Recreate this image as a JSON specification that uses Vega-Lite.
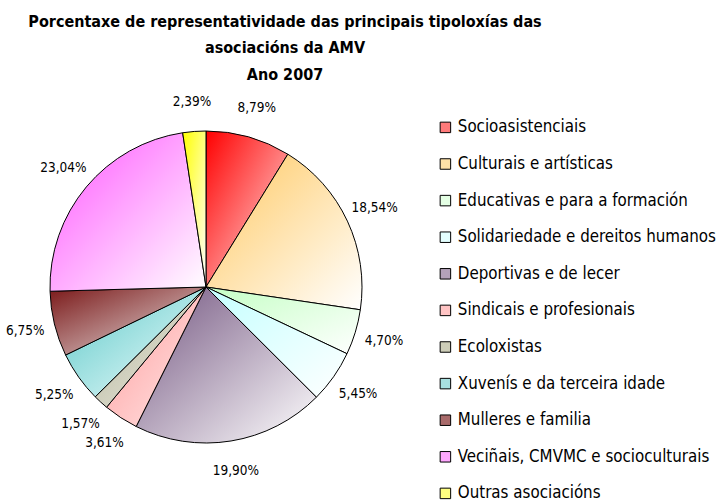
{
  "$schema": "https://vega.github.io/schema/vega-lite/v6.json",
  "autosize": {"type": "none"},
  "width": 412,
  "height": 374,
  "padding": {"left": 0, "top": 100, "right": 309, "bottom": 30},
  "background": "white",
  "title": {
    "text": ["Porcentaxe de representatividade das principais tipoloxías das", "asociacións da AMV", "Ano 2007"],
    "anchor": "middle",
    "dx": 79,
    "offset": 12,
    "font": "DejaVu Sans Condensed",
    "fontSize": 16,
    "fontWeight": "bold",
    "lineHeight": 26.5,
    "color": "#000000"
  },
  "data": {
    "values": [
      {"ordem": 1, "tipo": "Socioasistenciais", "pct": 8.79, "rotulo": "8,79%"},
      {"ordem": 2, "tipo": "Culturais e artísticas", "pct": 18.54, "rotulo": "18,54%"},
      {"ordem": 3, "tipo": "Educativas e para a formación", "pct": 4.70, "rotulo": "4,70%"},
      {"ordem": 4, "tipo": "Solidariedade e dereitos humanos", "pct": 5.45, "rotulo": "5,45%"},
      {"ordem": 5, "tipo": "Deportivas e de lecer", "pct": 19.90, "rotulo": "19,90%"},
      {"ordem": 6, "tipo": "Sindicais e profesionais", "pct": 3.61, "rotulo": "3,61%"},
      {"ordem": 7, "tipo": "Ecoloxistas", "pct": 1.57, "rotulo": "1,57%"},
      {"ordem": 8, "tipo": "Xuvenís e da terceira idade", "pct": 5.25, "rotulo": "5,25%"},
      {"ordem": 9, "tipo": "Mulleres e familia", "pct": 6.75, "rotulo": "6,75%"},
      {"ordem": 10, "tipo": "Veciñais, CMVMC e socioculturais", "pct": 23.04, "rotulo": "23,04%"},
      {"ordem": 11, "tipo": "Outras asociacións", "pct": 2.39, "rotulo": "2,39%"}
    ]
  },
  "encoding": {
    "theta": {"field": "pct", "type": "quantitative", "stack": true},
    "order": {"field": "ordem", "type": "quantitative"}
  },
  "layer": [
    {
      "mark": {"type": "arc", "outerRadius": 156, "stroke": "#000000", "strokeWidth": 1},
      "encoding": {
        "fill": {
          "field": "tipo",
          "type": "nominal",
          "scale": {
            "domain": ["Socioasistenciais", "Culturais e artísticas", "Educativas e para a formación", "Solidariedade e dereitos humanos", "Deportivas e de lecer", "Sindicais e profesionais", "Ecoloxistas", "Xuvenís e da terceira idade", "Mulleres e familia", "Veciñais, CMVMC e socioculturais", "Outras asociacións"],
            "range": ["#FF7A7A", "#FFE2A8", "#E4FFE4", "#E4FFFF", "#B4A2BA", "#FFC4C4", "#CDCDB8", "#A8E0E0", "#A86A6A", "#FFA8FF", "#FFFF80"]
          },
          "legend": {
            "orient": "none",
            "legendX": 437,
            "legendY": 19,
            "title": null,
            "labelFont": "DejaVu Sans Condensed",
            "labelFontSize": 16.8,
            "labelColor": "#000000",
            "symbolType": "square",
            "symbolSize": 110,
            "symbolStrokeColor": "#000000",
            "symbolStrokeWidth": 1,
            "symbolOpacity": 1,
            "rowPadding": 18.6,
            "labelOffset": 4,
            "labelLimit": 400
          },
          "condition": [
            {"test": "datum.tipo === 'Socioasistenciais'", "value": {"gradient": "linear", "x1": 0, "y1": 0, "x2": 1, "y2": 1, "stops": [{"offset": 0, "color": "#FF0000"}, {"offset": 1, "color": "#FFE8E8"}]}},
            {"test": "datum.tipo === 'Culturais e artísticas'", "value": {"gradient": "linear", "x1": 0, "y1": 0, "x2": 1, "y2": 1, "stops": [{"offset": 0, "color": "#FFC860"}, {"offset": 1, "color": "#FFFFFF"}]}},
            {"test": "datum.tipo === 'Educativas e para a formación'", "value": {"gradient": "linear", "x1": 0, "y1": 0, "x2": 1, "y2": 1, "stops": [{"offset": 0, "color": "#C4FFC4"}, {"offset": 1, "color": "#FFFFFF"}]}},
            {"test": "datum.tipo === 'Solidariedade e dereitos humanos'", "value": {"gradient": "linear", "x1": 0, "y1": 0, "x2": 1, "y2": 1, "stops": [{"offset": 0, "color": "#C4FFFF"}, {"offset": 1, "color": "#FFFFFF"}]}},
            {"test": "datum.tipo === 'Deportivas e de lecer'", "value": {"gradient": "linear", "x1": 0, "y1": 0, "x2": 1, "y2": 1, "stops": [{"offset": 0, "color": "#735580"}, {"offset": 1, "color": "#FFFFFF"}]}},
            {"test": "datum.tipo === 'Sindicais e profesionais'", "value": {"gradient": "linear", "x1": 0, "y1": 0, "x2": 1, "y2": 1, "stops": [{"offset": 0, "color": "#FF9A9A"}, {"offset": 1, "color": "#FFEAEA"}]}},
            {"test": "datum.tipo === 'Ecoloxistas'", "value": {"gradient": "linear", "x1": 0, "y1": 0, "x2": 1, "y2": 1, "stops": [{"offset": 0, "color": "#B4B498"}, {"offset": 1, "color": "#ECECE4"}]}},
            {"test": "datum.tipo === 'Xuvenís e da terceira idade'", "value": {"gradient": "linear", "x1": 0, "y1": 0, "x2": 1, "y2": 1, "stops": [{"offset": 0, "color": "#5CC8C8"}, {"offset": 1, "color": "#F4FFFF"}]}},
            {"test": "datum.tipo === 'Mulleres e familia'", "value": {"gradient": "linear", "x1": 0, "y1": 0, "x2": 1, "y2": 1, "stops": [{"offset": 0, "color": "#7A1818"}, {"offset": 1, "color": "#ECE8E8"}]}},
            {"test": "datum.tipo === 'Veciñais, CMVMC e socioculturais'", "value": {"gradient": "linear", "x1": 0, "y1": 0, "x2": 1, "y2": 1, "stops": [{"offset": 0, "color": "#FF55FF"}, {"offset": 1, "color": "#FFFFFF"}]}},
            {"test": "datum.tipo === 'Outras asociacións'", "value": {"gradient": "linear", "x1": 0, "y1": 0, "x2": 1, "y2": 1, "stops": [{"offset": 0, "color": "#FFFF00"}, {"offset": 1, "color": "#FFFFFF"}]}}
          ]
        }
      }
    },
    {
      "mark": {"type": "text", "radius": 186, "font": "DejaVu Sans Condensed", "fontSize": 13.5, "color": "#000000"},
      "encoding": {"text": {"field": "rotulo", "type": "nominal"}}
    }
  ],
  "config": {"view": {"stroke": null}}
}
